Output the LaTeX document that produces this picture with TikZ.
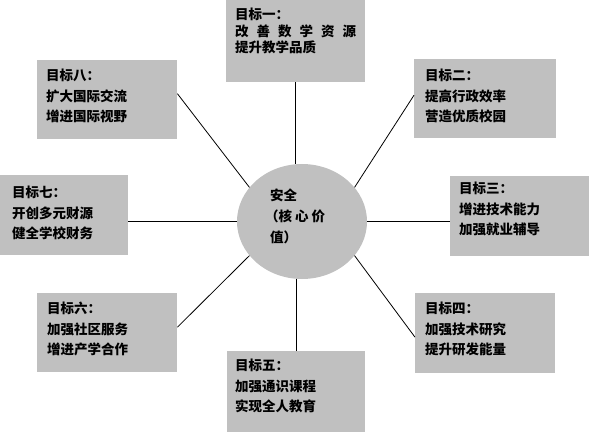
\documentclass[tikz,border=0pt]{standalone}
\usepackage{fontspec}
\newfontfamily\cjk{Noto Sans CJK SC}
\usetikzlibrary{shapes.geometric,calc}
\definecolor{boxgray}{HTML}{C0C0C0}
\tikzset{
  goalbox/.style={fill=boxgray, draw=none, anchor=north west, inner sep=0pt},
  lbl/.style={anchor=north west, inner sep=0pt, align=left, font=\cjk\bfseries\fontsize{13.5}{20.5}\selectfont},
  conn/.style={draw=black, line width=0.8pt}
}
\newcommand{\gsp}{\hspace{8pt}}
\begin{document}
\begin{tikzpicture}[x=1pt,y=-1pt]
\useasboundingbox (0,0) rectangle (592,433);
% boxes
\node[goalbox, minimum width=139, minimum height=82] (b1) at (226,0) {};
\node[goalbox, minimum width=142, minimum height=79] (b2) at (414,59) {};
\node[goalbox, minimum width=139, minimum height=80] (b3) at (450,176) {};
\node[goalbox, minimum width=140, minimum height=80] (b4) at (415,293) {};
\node[goalbox, minimum width=138, minimum height=81] (b5) at (227,351) {};
\node[goalbox, minimum width=140, minimum height=79] (b6) at (37,293) {};
\node[goalbox, minimum width=128, minimum height=80] (b7) at (0,175) {};
\node[goalbox, minimum width=140, minimum height=79] (b8) at (37,60) {};
% centre
\node[ellipse, fill=boxgray, minimum width=130, minimum height=115, inner sep=0pt] (e) at (302,221.5) {};
% connectors
\draw[conn] (b1.south) -- (b1.south |- e.north);
\draw[conn] (b5.north) -- (b5.north |- e.south);
\draw[conn] (e.west) -- (e.west -| b7.east);
\draw[conn] (e.east) -- (e.east -| b3.west);
\draw[conn] (e.147) -- ([yshift=6pt]b8.east);
\draw[conn] (e.33) -- ([yshift=3.5pt]b2.west);
\draw[conn] (e.-147) -- ([yshift=5.5pt]b6.east);
\draw[conn] (e.-33) -- ([yshift=-4pt]b4.west);
% texts
\node[lbl, font=\cjk\bfseries\fontsize{13.5}{16.5}\selectfont] (t1) at (235,8) {目标一：\\改\gsp 善\gsp 数\gsp 学\gsp 资\gsp 源\\提升教学品质};
\node[lbl] (t2) at (425,69) {目标二：\\提高行政效率\\营造优质校园};
\node[lbl] (t3) at (459,182) {目标三：\\增进技术能力\\加强就业辅导};
\node[lbl] (t4) at (425,302) {目标四：\\加强技术研究\\提升研发能量};
\node[lbl] (t5) at (235,359) {目标五：\\加强通识课程\\实现全人教育};
\node[lbl] (t6) at (47,302) {目标六：\\加强社区服务\\增进产学合作};
\node[lbl] (t7) at (12,186) {目标七：\\开创多元财源\\健全学校财务};
\node[lbl] (t8) at (46,69) {目标八：\\扩大国际交流\\增进国际视野};
\node[lbl, font=\cjk\bfseries\fontsize{13.5}{21}\selectfont] (tc) at (270,189) {安全\\\hspace*{-5pt}（核\hspace{3pt}心\hspace{3pt}价\\值）};
\end{tikzpicture}
\end{document}
